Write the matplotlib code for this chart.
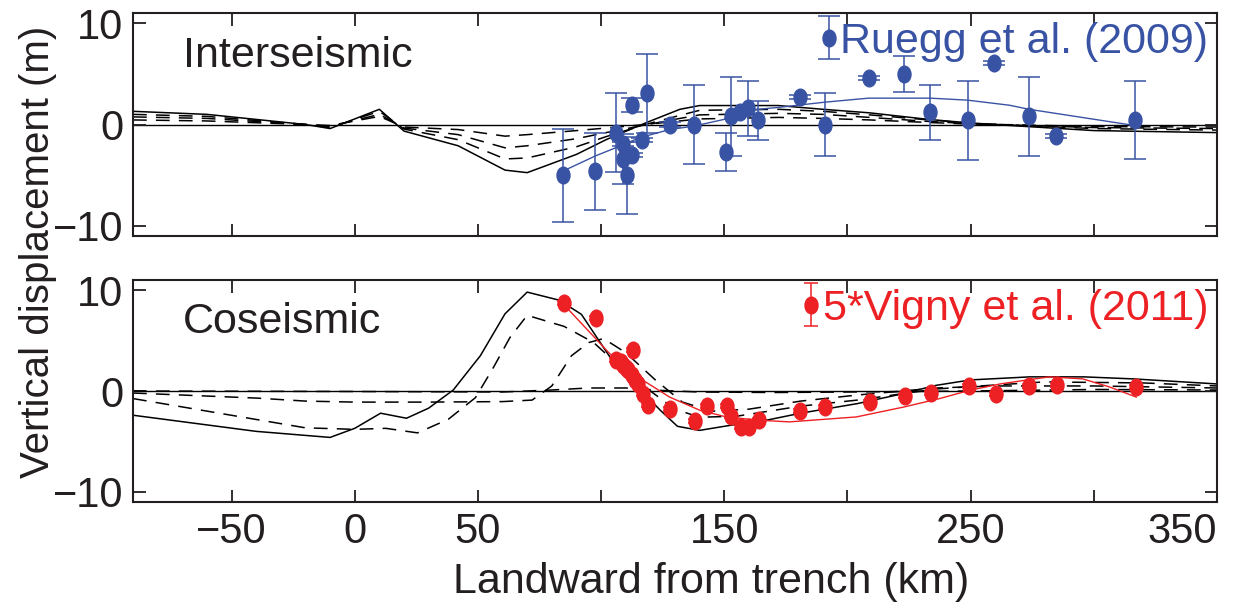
import matplotlib
matplotlib.use("Agg")
import matplotlib.pyplot as plt
from matplotlib.markers import MarkerStyle
from matplotlib.transforms import Affine2D

plt.rcParams['font.family'] = ['Liberation Sans', 'DejaVu Sans']

BLUE = "#3953A4"
RED = "#ED2024"

# ---------------- Interseismic panel ----------------
# model profiles (km landward, m)
x_inter = [-90, -60, -20, -10, 10, 20, 42, 61, 70, 90, 102, 118, 132, 140,
           172, 190, 209, 233, 249, 266, 300, 350]
inter_final = [1.3, 1.0, 0.0, -0.4, 1.5, -0.65, -2.1, -4.5, -4.75, -2.95, -1.5,
               0.15, 1.5, 1.87, 1.87, 1.5, 1.15, 0.5, 0.17, -0.1, -0.6, -0.8]
inter_stage1 = [1.0, 0.8, 0.0, -0.3, 1.3, -0.45, -1.5, -3.4, -3.3, -2.2, -1.2,
                0.0, 0.9, 1.4, 1.5, 1.3, 0.95, 0.45, 0.15, -0.05, -0.4, -0.55]
inter_stage2 = [0.75, 0.6, 0.0, -0.2, 1.0, -0.35, -1.0, -2.3, -2.1, -1.4, -0.8,
                -0.05, 0.6, 0.95, 1.1, 1.0, 0.7, 0.3, 0.1, -0.05, -0.3, -0.4]
inter_stage3 = [0.45, 0.35, 0.0, -0.1, 0.8, -0.25, -0.5, -1.15, -1.0, -0.6, -0.35,
                0.0, 0.35, 0.55, 0.7, 0.6, 0.45, 0.2, 0.05, -0.02, -0.2, -0.25]

# Ruegg et al. (2009) GPS vertical rates scaled to displacement
ruegg_x = [84.5, 97.7, 105.9, 112.7, 118.7, 108.9, 108.9, 112.7, 110.7, 116.7,
           127.8, 137.6, 150.8, 152.6, 156.3, 159.6, 163.7, 180.6, 190.7, 208.7,
           222.8, 233.6, 248.8, 259.6, 273.7, 284.8, 316.6]
ruegg_y = [-5.0, -4.6, -0.8, 1.9, 3.1, -1.9, -3.4, -3.05, -5.0, -1.5,
           0.0, 0.0, -2.7, 0.8, 1.2, 1.6, 0.4, 2.7, 0.0, 4.6,
           5.0, 1.2, 0.4, 6.1, 0.8, -1.15, 0.4]
ruegg_err = [4.6, 3.8, 3.9, 0.7, 3.9, 0.2, 2.5, 0.2, 3.8, 0.2,
             0.2, 3.9, 1.9, 3.9, 0.2, 2.7, 1.95, 0.2, 3.1, 0.2,
             1.8, 2.7, 3.9, 0.2, 3.9, 0.2, 3.85]

# best-fit curve through the Ruegg data
ruegg_fit_x = [84.5, 97.7, 105.9, 115.7, 127.8, 137.6, 150.8, 159.6, 172.5,
               190.7, 208.6, 233.6, 248.8, 265.8, 273.7, 316.6]
ruegg_fit_y = [-4.6, -3.1, -2.3, -1.3, -0.5, -0.16, 0.55, 1.4, 1.7,
               2.2, 2.6, 2.6, 2.4, 1.9, 1.5, -0.1]

# ---------------- Coseismic panel ----------------
x_co_final = [-90, -40, -10, 0, 10.5, 21, 30, 40, 51, 61, 70, 83, 92, 103.5,
              116, 124, 131, 140, 155, 167, 181, 204, 220, 236, 250, 274, 296,
              316, 350]
co_final = [-2.4, -4.0, -4.6, -3.7, -2.2, -2.7, -1.7, 0.1, 3.5, 7.65, 9.8, 9.0,
            7.6, 3.4, 0.1, -1.9, -3.5, -3.9, -3.3, -2.9, -2.2, -1.25, -0.4,
            0.56, 1.1, 1.4, 1.4, 1.2, 0.7]

x_co_stage1 = [-90, -20, 0, 12.6, 25.5, 38, 49, 56, 63, 70, 85, 97, 105, 112,
               120, 130, 140, 155, 181, 204, 236, 260, 280, 320, 350]
co_stage1 = [-0.75, -3.65, -3.8, -3.7, -4.15, -2.8, -0.66, 2.2, 5.3, 7.5, 6.4,
             4.8, 3.0, 1.5, 0.0, -1.8, -2.6, -2.5, -1.5, -0.9, 0.2, 0.6, 0.9,
             0.8, 0.5]

x_co_stage2 = [-90, -40, -20, 0, 30, 60, 72, 80, 88, 95, 101, 110, 122, 133,
               145, 160, 181, 204, 236, 260, 300, 350]
co_stage2 = [-0.2, -0.7, -1.0, -1.1, -1.1, -1.05, -0.9, 0.5, 3.5, 4.8, 5.2,
             3.8, 1.1, -1.1, -2.0, -1.8, -1.0, -0.4, 0.3, 0.5, 0.5, 0.3]

x_co_stage3 = [-90, 0, 60, 80, 95, 110, 125, 140, 170, 200, 250, 300, 350]
co_stage3 = [0.0, -0.05, -0.1, 0.1, 0.3, 0.3, 0.05, -0.1, -0.15, -0.1, 0.0,
             0.15, 0.1]

# 5 x Vigny et al. (2011) GPS coseismic vertical displacements
vigny_x = [84.8, 98.1, 106.2, 108.0, 109.0, 110.0, 111.0, 112.5, 113.0, 113.6,
           115.0, 117.0, 119.0, 128.1, 138.0, 143.0, 151.1, 152.9, 156.9,
           160.0, 164.1, 180.9, 191.0, 209.0, 223.2, 234.0, 249.2, 260.2,
           273.5, 285.0, 317.0]
vigny_y = [8.7, 7.2, 3.1, 2.9, 2.55, 2.3, 2.1, 1.6, 4.1, 1.1,
           0.7, -0.26, -1.4, -1.8, -3.0, -1.5, -1.5, -2.5, -3.55,
           -3.6, -2.9, -1.97, -1.6, -1.1, -0.5, -0.2, 0.5, -0.26,
           0.45, 0.56, 0.4]
vigny_err = [0.2] * len(vigny_x)

vigny_fit_x = [85.9, 103.5, 117.0, 127.8, 140.0, 150.8, 164.4, 176.5, 203.6,
               223.0, 237.4, 249.6, 262.0, 274.0, 282.0, 295.5, 306.4, 317.2]
vigny_fit_y = [8.3, 3.7, 1.06, -0.6, -1.9, -2.57, -2.9, -3.06, -2.57,
               -1.58, -0.75, 0.07, 0.7, 1.13, 1.4, 1.2, 0.4, -0.6]

x_ticks = [-50, 0, 50, 100, 150, 200, 250, 300, 350]
x_ticklabels = ["\u221250", "0", "50", "", "150", "", "250", "", "350"]
y_ticks = [-10, 0, 10]
y_ticklabels = ["\u221210", "0", "10"]

FS = 31
TEXT = "#231F20"
dot = MarkerStyle("o", transform=Affine2D().scale(0.78, 1.0))

fig = plt.figure(figsize=(12.37, 6.08), dpi=100)
ax1 = fig.add_axes([0.10752, 0.61184, 0.87631, 0.36678])
ax2 = fig.add_axes([0.10752, 0.17434, 0.87631, 0.36513])

dash = (0, (9, 6))
for ax in (ax1, ax2):
    ax.set_xlim(-90, 350)
    ax.set_ylim(-11, 11)
    ax.axhline(0, color="black", lw=1.0, zorder=1)
    ax.set_xticks(x_ticks)
    ax.set_yticks(y_ticks)
    ax.set_yticklabels(y_ticklabels)
    ax.tick_params(direction="in", top=True, right=True, length=9, width=1.3,
                   labelsize=30, pad=7, colors=TEXT)
    for s in ax.spines.values():
        s.set_linewidth(1.5)
        s.set_color(TEXT)

# interseismic
ax1.plot(x_inter, inter_final, color="black", lw=1.1, zorder=2)
for prof in (inter_stage1, inter_stage2, inter_stage3):
    ax1.plot(x_inter, prof, color="black", lw=1.1, ls=dash, zorder=2)
ax1.plot(ruegg_fit_x, ruegg_fit_y, color=BLUE, lw=1.0, zorder=3)
eb1 = ax1.errorbar(ruegg_x, ruegg_y, yerr=ruegg_err, ls="none", marker=dot,
                   ms=12, color=BLUE, ecolor=BLUE, elinewidth=1.1, capsize=8,
                   capthick=1.1, zorder=4)
ax1.set_xticklabels([])
ax1.text(0.046, 0.758, "Interseismic", transform=ax1.transAxes, fontsize=FS,
         ha="left", va="baseline", color=TEXT)
leg1 = ax1.legend([eb1], ["Ruegg et al. (2009)"], loc="upper right",
                  frameon=False, fontsize=FS, handlelength=0.35,
                  handletextpad=0.1, borderaxespad=0.05, borderpad=0.15)
for t in leg1.get_texts():
    t.set_color(BLUE)

# coseismic
ax2.plot(x_co_final, co_final, color="black", lw=1.1, zorder=2)
for xs, prof in ((x_co_stage1, co_stage1), (x_co_stage2, co_stage2),
                 (x_co_stage3, co_stage3)):
    ax2.plot(xs, prof, color="black", lw=1.1, ls=dash, zorder=2)
ax2.plot(vigny_fit_x, vigny_fit_y, color=RED, lw=1.0, zorder=3)
eb2 = ax2.errorbar(vigny_x, vigny_y, yerr=vigny_err, ls="none", marker=dot,
                   ms=12, color=RED, ecolor=RED, elinewidth=1.1, capsize=5,
                   capthick=1.1, zorder=4)
ax2.set_xticklabels(x_ticklabels)
ax2.get_xticklabels()[-1].set_horizontalalignment("right")
ax2.text(0.046, 0.76, "Coseismic", transform=ax2.transAxes, fontsize=FS,
         ha="left", va="baseline", color=TEXT)
leg2 = ax2.legend([eb2], ["5*Vigny et al. (2011)"], loc="upper right",
                  frameon=False, fontsize=FS, handlelength=0.35,
                  handletextpad=0.1, borderaxespad=0.05, borderpad=0.15)
for t in leg2.get_texts():
    t.set_color(RED)

fig.text(0.5752, 0.043, "Landward from trench (km)", fontsize=FS,
         ha="center", va="center", color=TEXT)
fig.text(0.031, 0.585, "Vertical displacement (m)", fontsize=29,
         rotation=90, ha="center", va="center", color=TEXT)

fig.savefig("out.png", dpi=100)
